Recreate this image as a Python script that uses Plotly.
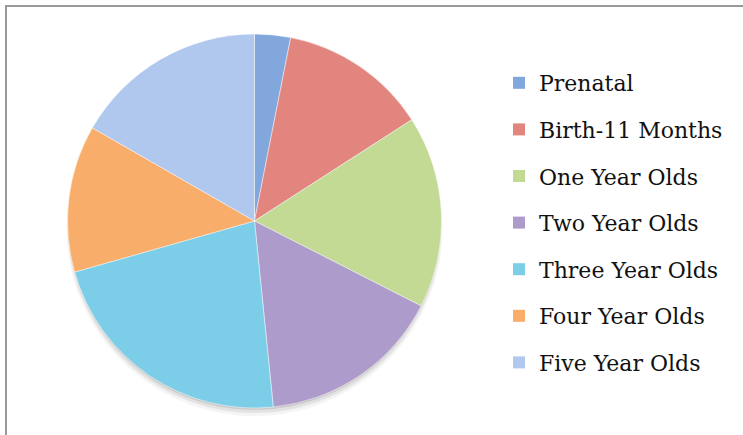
import plotly.graph_objects as go

categories = ["Prenatal", "Birth-11 Months", "One Year Olds", "Two Year Olds",
              "Three Year Olds", "Four Year Olds", "Five Year Olds"]
values = [3.1, 12.8, 16.6, 15.9, 22.2, 12.7, 16.7]
colors = ["#81a7dc", "#e3857f", "#c2da94", "#ad9bcb", "#7ccde7", "#f9ad6b", "#b1c8ee"]

W, H = 743, 435
cx, cy, r = 254.5, 221, 187


def px(x):
    return x / W


def py(y):
    return 1 - y / H


fig = go.Figure()

# soft shadow below pie, mostly at the bottom
for grow, dy, op in [(1, 7, 0.04), (0, 5, 0.07), (-1, 3, 0.10)]:
    fig.add_shape(type="circle", xref="paper", yref="paper", layer="below",
                  x0=px(cx - r - grow), x1=px(cx + r + grow),
                  y0=py(cy + r + grow + dy), y1=py(cy - r - grow + dy),
                  fillcolor=f"rgba(0,0,0,{op})", line=dict(width=0))

fig.add_trace(go.Pie(
    labels=categories, values=values, sort=False, direction="clockwise", rotation=0,
    marker=dict(colors=colors, line=dict(color="rgba(255,255,255,0.6)", width=0.8)),
    textinfo="none", hoverinfo="label+value", showlegend=False,
    domain=dict(x=[px(cx - r), px(cx + r)], y=[py(cy + r), py(cy - r)]),
))

for i, (c, col) in enumerate(zip(categories, colors)):
    fig.add_trace(go.Scatter(
        x=[None], y=[None], mode="markers", name=c, legendgroup=f"g{i}",
        marker=dict(symbol="square", size=14, color=col), showlegend=True,
    ))

fig.add_shape(type="rect", xref="paper", yref="paper",
              x0=px(6), x1=1.02, y0=-0.02, y1=py(6),
              line=dict(color="#9a9a9a", width=2), fillcolor="rgba(0,0,0,0)")

fig.update_layout(
    width=W, height=H, margin=dict(l=0, r=0, t=0, b=0),
    paper_bgcolor="white", plot_bgcolor="white",
    xaxis=dict(visible=False), yaxis=dict(visible=False),
    legend=dict(x=px(499), y=py(62), xanchor="left", yanchor="top",
                font=dict(family="DejaVu Serif", size=22, color="#111111"),
                tracegroupgap=15, itemsizing="constant", bgcolor="rgba(0,0,0,0)"),
)

fig.write_html("out.html", config={"displayModeBar": False},
               post_script="document.body.style.margin='0';document.body.style.overflow='hidden';")
